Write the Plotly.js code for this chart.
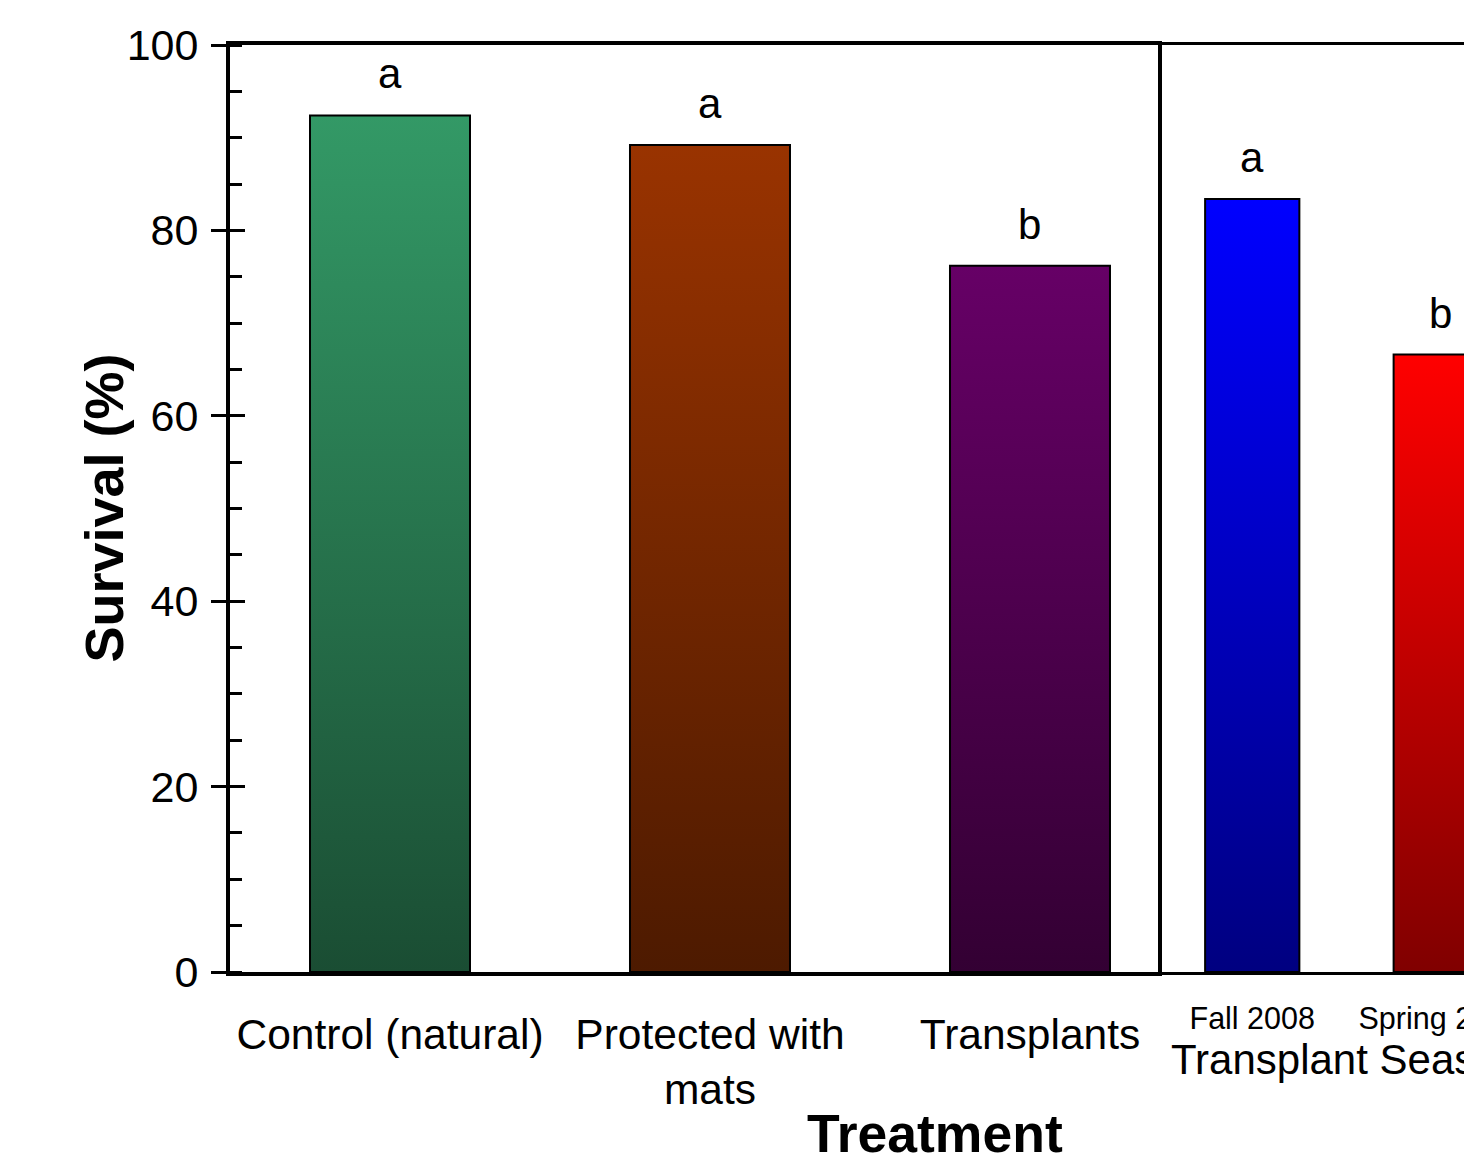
<!DOCTYPE html>
<html>
<head>
<meta charset="utf-8">
<script src="https://cdn.plot.ly/plotly-3.0.1.min.js"></script>
<style>
html,body{margin:0;padding:0;overflow:hidden;background:#fff;}
#chart{width:1545px;height:1157px;}
</style>
</head>
<body>
<div id="chart"></div>
<script>
// ---- data ----
var treatmentCats = ["Control (natural)", "Protected with<br>mats", "Transplants"];
var treatmentVals = [92.4, 89.2, 76.2];
var treatmentLetters = ["a", "a", "b"];
var treatmentTop = ["#339966", "#993300", "#660066"];
var treatmentBottom = ["#1a4d33", "#4d1a00", "#330033"];

var seasonCats = ["Fall 2008", "Spring 2009"];
var seasonVals = [83.4, 66.6];
var seasonLetters = ["a", "b"];
var seasonTop = ["#0000ff", "#ff0000"];
var seasonBottom = ["#000080", "#800000"];

var yTickVals = [0, 20, 40, 60, 80, 100];

var FONT = "Liberation Sans, Arial, Helvetica, sans-serif";

var traces = [
  {
    type: "bar", x: treatmentCats, y: treatmentVals, xaxis: "x", yaxis: "y",
    width: 0.5,
    marker: {color: treatmentTop, line: {color: "#000", width: 2}},
    hoverinfo: "none"
  },
  {
    type: "bar", x: seasonCats, y: seasonVals, xaxis: "x2", yaxis: "y2",
    width: 0.5,
    marker: {color: seasonTop, line: {color: "#000", width: 2}},
    hoverinfo: "none"
  },
  // invisible companion trace so the overlay axis (inner half of the major ticks) is drawn
  {type: "scatter", x: treatmentCats, y: treatmentVals, xaxis: "x", yaxis: "y3", mode: "none", hoverinfo: "none"}
];

var annotations = [];
treatmentCats.forEach(function (c, i) {
  annotations.push({x: c, y: treatmentVals[i], xref: "x", yref: "y", text: treatmentLetters[i],
    showarrow: false, yanchor: "bottom", yshift: 16, font: {family: FONT, size: 42, color: "#000"}});
});
seasonCats.forEach(function (c, i) {
  annotations.push({x: c, y: seasonVals[i], xref: "x2", yref: "y2", text: seasonLetters[i],
    showarrow: false, yanchor: "bottom", yshift: 16, font: {family: FONT, size: 42, color: "#000"}});
});
annotations.push({text: "<b>Treatment</b>", xref: "paper", yref: "paper", x: 0.540, y: -0.1737,
  xanchor: "center", yanchor: "middle", showarrow: false, font: {family: FONT, size: 53.5, color: "#000"}});
annotations.push({text: "<b>Survival (%)</b>", xref: "paper", yref: "paper", x: -0.0973, y: 0.5,
  xanchor: "center", yanchor: "middle", textangle: -90, showarrow: false,
  font: {family: FONT, size: 54, color: "#000"}});

var layout = {
  width: 1545, height: 1157,
  margin: {l: 230, r: 10, t: 45, b: 185},
  paper_bgcolor: "#fff", plot_bgcolor: "#fff",
  showlegend: false,
  font: {family: FONT, color: "#000"},
  xaxis: {
    domain: [0, 0.7111], range: [-0.5, 2.4], type: "category",
    showline: true, linecolor: "#000", linewidth: 4, mirror: true,
    ticks: "", showgrid: false, zeroline: false,
    tickfont: {family: FONT, size: 42.5, color: "#000"},
    ticklabelstandoff: 22, fixedrange: true
  },
  yaxis: {
    range: [0, 100], tickvals: yTickVals,
    showline: true, linecolor: "#000", linewidth: 4, mirror: true,
    ticks: "outside", ticklen: 15, tickwidth: 3, tickcolor: "#000",
    minor: {ticks: "inside", ticklen: 12, tickwidth: 3, tickcolor: "#000", dtick: 5},
    showgrid: false, zeroline: false,
    tickfont: {family: FONT, size: 43, color: "#000"},
    ticklabelstandoff: 4,
    fixedrange: true
  },
  yaxis3: {
    range: [0, 100], tickmode: "array", tickvals: yTickVals, overlaying: "y", anchor: "x", side: "left",
    showline: false, showticklabels: false, showgrid: false, zeroline: false,
    ticks: "inside", ticklen: 15, tickwidth: 3, tickcolor: "#000", fixedrange: true
  },
  xaxis2: {
    domain: [0.7111, 1], range: [-0.5, 1.5], type: "category", anchor: "y2",
    showline: true, linecolor: "#000", linewidth: 3, mirror: true,
    ticks: "", showgrid: false, zeroline: false,
    tickfont: {family: FONT, size: 30.5, color: "#000"},
    ticklabelstandoff: 17,
    title: {text: "Transplant Season", font: {family: FONT, size: 42, color: "#000"}, standoff: 4},
    fixedrange: true
  },
  yaxis2: {
    range: [0, 100], anchor: "x2", showline: false, showticklabels: false,
    ticks: "", showgrid: false, zeroline: false, fixedrange: true
  },
  bargap: 0.5,
  annotations: annotations
};

var gd = document.getElementById("chart");
Plotly.newPlot(gd, traces, layout, {displayModeBar: false, staticPlot: true}).then(function () {
  // apply vertical gradients to bars (top colour -> darker bottom colour)
  var tops = treatmentTop.concat(seasonTop);
  var bottoms = treatmentBottom.concat(seasonBottom);
  var svg = gd.querySelector("svg.main-svg");
  var defs = svg.querySelector("defs");
  var NS = "http://www.w3.org/2000/svg";
  function toRgb(hex) {
    var n = parseInt(hex.slice(1), 16);
    return "rgb(" + ((n >> 16) & 255) + ", " + ((n >> 8) & 255) + ", " + (n & 255) + ")";
  }
  var map = {};
  tops.forEach(function (t, i) {
    var g = document.createElementNS(NS, "linearGradient");
    g.setAttribute("id", "grad" + i);
    g.setAttribute("x1", "0"); g.setAttribute("y1", "0");
    g.setAttribute("x2", "0"); g.setAttribute("y2", "1");
    var s1 = document.createElementNS(NS, "stop");
    s1.setAttribute("offset", "0"); s1.setAttribute("stop-color", t);
    var s2 = document.createElementNS(NS, "stop");
    s2.setAttribute("offset", "1"); s2.setAttribute("stop-color", bottoms[i]);
    g.appendChild(s1); g.appendChild(s2);
    defs.appendChild(g);
    map[toRgb(t)] = "url(#grad" + i + ")";
  });
  gd.querySelectorAll(".bars .point path").forEach(function (p) {
    var f = p.style.fill;
    if (map[f]) p.style.fill = map[f];
  });
});
</script>
</body>
</html>
